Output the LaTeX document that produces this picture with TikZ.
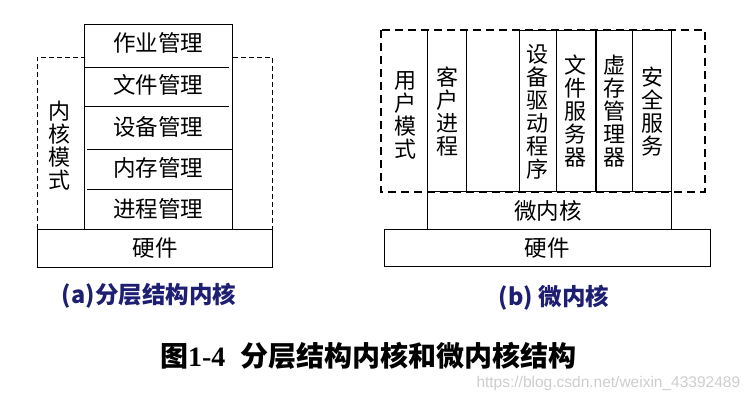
\documentclass[tikz,border=0pt]{standalone}
\usepackage{fontspec}
\newfontfamily\cjk{Noto Sans CJK SC}
\newfontfamily\timesf{Liberation Serif}
\newfontfamily\arialf{Liberation Sans}
\definecolor{navy}{RGB}{30,30,115}
\definecolor{wmark}{RGB}{205,205,205}
\begin{document}
\begin{tikzpicture}[x=1pt,y=-1pt,line width=1pt,
  txt/.style={font=\cjk\fontsize{22.5}{23}\selectfont,inner sep=0pt},
  vtxt/.style={font=\cjk\fontsize{22}{23}\selectfont,inner sep=0pt,align=center},
  ldash/.style={line width=0.9pt,dash pattern=on 5pt off 3pt},
  rdash/.style={line width=2pt,dash pattern=on 8pt off 5pt},
  captxt/.style={font=\cjk\bfseries\fontsize{23.5}{25}\selectfont,text=navy,inner sep=0pt}]
\useasboundingbox (0,0) rectangle (755,402);
% ---------- (a) layered kernel ----------
\draw[ldash] (37.3,229.3) -- (37.3,57.3) -- (272.3,57.3) -- (272.3,229.3);
\draw[fill=white] (84.3,24.3) rectangle (232.3,229.3);
\draw (84.3,67.3) -- (229,67.3);
\draw (84.3,106) -- (229,106);
\draw (87,149.3) -- (232.3,149.3);
\draw (87,189.3) -- (232.3,189.3);
\draw (37.3,229.3) rectangle (272.3,267.7);
\node[txt] (job)  at (158.3,43.3)  {作业管理};
\node[txt] (file) at (158.3,84.5)  {文件管理};
\node[txt] (dev)  at (158.3,126.7) {设备管理};
\node[txt] (mem)  at (158.3,167.5) {内存管理};
\node[txt] (proc) at (158.3,208.8) {进程管理};
\node[txt] (hwa)  at (155,248.5)   {硬件};
\node[vtxt] (km)  at (59.3,145.5)  {内\\核\\模\\式};
% ---------- (b) microkernel ----------
\draw[rdash] (381,30) rectangle (705,191.7);
\draw (427.3,30) -- (427.3,191.7);
\draw (466.7,30) -- (466.7,191.7);
\draw (519,191.7) -- (519,30) -- (671.7,30) -- (671.7,191.7);
\draw (556,30) -- (556,191.7);
\draw[line width=1.8pt] (595.7,30) -- (595.7,191.7);
\draw (632.7,30) -- (632.7,191.7);
\draw (427.3,191.7) rectangle (671.7,229.3);
\draw (384,229.3) rectangle (710,266.7);
\node[vtxt] (um)  at (405,115)   {用\\户\\模\\式};
\node[vtxt] (cp)  at (447,112)   {客\\户\\进\\程};
\node[vtxt] (dd)  at (537.7,111.5) {设\\备\\驱\\动\\程\\序};
\node[vtxt] (fs)  at (575,111)   {文\\件\\服\\务\\器};
\node[vtxt] (vm)  at (614,111)   {虚\\存\\管\\理\\器};
\node[vtxt] (ss)  at (652,111.5) {安\\全\\服\\务};
\node[txt] (mk)   at (548,211)   {微内核};
\node[txt] (hwb)  at (547,248)   {硬件};
% ---------- captions ----------
\node[captxt] (capa) at (149,295.5) {(a)分层结构内核};
\node[captxt] (capb) at (554,298) {(b) 微内核};
\node[inner sep=0pt,font=\fontsize{28}{30}\selectfont] (title) at (368.5,356)
  {{\cjk\bfseries 图}{\timesf\bfseries 1-4}\hspace{0.55em}{\cjk\bfseries 分层结构内核和微内核结构}};
\node[inner sep=0pt,anchor=west,text=wmark,font=\arialf\fontsize{15.5}{17}\selectfont] (wm) at (476,383)
  {https://blog.csdn.net/weixin\_43392489};
\end{tikzpicture}
\end{document}
